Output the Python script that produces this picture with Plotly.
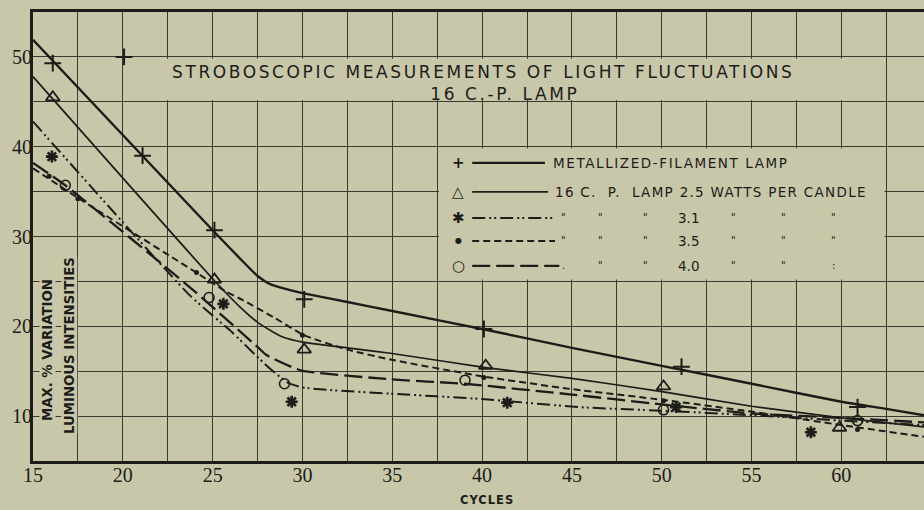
import plotly.graph_objects as go

# ---------------- data ----------------
# smooth curves drawn through the observations
curve_metal_x = [15, 25, 26.5, 27.5, 28.2, 29, 30, 32.5, 35, 40, 45, 50, 55, 60, 62.5, 64.6]
curve_metal_y = [51.9, 30.7, 27.6, 25.6, 24.7, 24.2, 23.7, 22.7, 21.7, 19.7, 17.6, 15.6, 13.6, 11.6, 10.8, 10.1]

curve_25_x = [15, 25, 26.5, 27.6, 28.9, 30.1, 32.5, 34.9, 40.2, 45, 50.1, 55, 60, 64.6]
curve_25_y = [47.8, 25.3, 22.2, 20.3, 18.8, 18.2, 17.6, 17.0, 15.4, 14.2, 12.7, 11.1, 9.8, 8.8]

curve_31_x = [15, 23.7, 26.1, 27.8, 28.6, 29.2, 30, 31.5, 34.9, 40, 45.4, 50, 55, 60, 64.6]
curve_31_y = [42.8, 23.5, 19.3, 16.0, 14.6, 13.7, 13.2, 12.9, 12.5, 11.9, 11.0, 10.6, 10.1, 9.5, 9.0]

curve_35_x = [15, 17.5, 24, 25.8, 26.7, 28.4, 30.1, 32.5, 34.9, 40.1, 45, 50.1, 55, 60, 64.6]
curve_35_y = [37.6, 34.3, 26.1, 23.8, 22.9, 21.0, 19.0, 17.4, 16.3, 14.4, 13.0, 11.8, 10.5, 9.0, 7.7]

curve_40_x = [15, 16.8, 23.7, 27.5, 28.0, 29.9, 34.9, 39, 45, 50, 55, 60, 64.6]
curve_40_y = [38.2, 35.7, 24.4, 17.7, 16.8, 15.1, 14.1, 13.6, 12.4, 11.3, 10.3, 9.8, 9.3]

# observed points (markers)
obs_metal_x = [16.1, 20.07, 21.1, 25.1, 30.1, 40.1, 51.1, 60.9]
obs_metal_y = [49.3, 50.0, 39.0, 30.7, 23.0, 19.7, 15.5, 11.0]

obs_25_x = [16.1, 25.1, 30.1, 40.2, 50.1, 59.9]
obs_25_y = [45.5, 25.2, 17.4, 15.6, 13.3, 8.7]

obs_31_x = [16.05, 25.6, 29.4, 41.4, 50.8, 58.3]
obs_31_y = [38.9, 22.5, 11.6, 11.5, 11.0, 8.2]

obs_35_x = [15.9, 17.5, 24.1, 30.0, 40.1, 50.1, 60.9]
obs_35_y = [36.7, 34.2, 26.0, 19.0, 14.3, 11.7, 8.5]

obs_40_x = [16.8, 24.8, 29.0, 39.05, 50.1, 60.9]
obs_40_y = [35.7, 23.2, 13.6, 14.0, 10.7, 9.5]

x_tick_vals = [15, 20, 25, 30, 35, 40, 45, 50, 55, 60]
x_tick_text = ["15", "20", "25", "30", "35", "40", "45", "50", "55", "60"]
y_tick_vals = [10, 20, 30, 40, 50]
y_tick_text = ["10", "20", "30", "40", "50"]

title_line1 = "STROBOSCOPIC MEASUREMENTS OF LIGHT FLUCTUATIONS"
title_line2 = "16 C.-P. LAMP"
y_title_1 = "MAX. % VARIATION"
y_title_2 = "LUMINOUS INTENSITIES"
x_title = "CYCLES"

legend_glyphs = ["+", "△", "✱", "●", "○"]
legend_label_1 = "METALLIZED-FILAMENT LAMP"
legend_label_2 = "16 C.  P.  LAMP 2.5 WATTS PER CANDLE"
legend_rows_345 = [
    ['"', '"', '"', "3.1", '"', '"', '"'],
    ['"', '"', '"', "3.5", '"', '"', '"'],
    [".", '"', '"', "4.0", '"', '"', ":"],
]

# ---------------- styling ----------------
BG = "#c9c7aa"
INK = "#1c1c18"
GRID = "#3a3930"

DASH_31 = "13px,4px,2px,3px,2px,4px"
DASH_35 = "7px,4px"
DASH_40 = "18px,6px"


def spaced(txt, px):
    return '<span style="letter-spacing:%spx">%s</span>' % (px, txt)


fig = go.Figure()


def add_curve(x, y, width, dash):
    fig.add_trace(go.Scatter(x=x, y=y, mode="lines", showlegend=False, hoverinfo="skip",
                             line=dict(color=INK, width=width, dash=dash, shape="spline", smoothing=0.5)))


add_curve(curve_metal_x, curve_metal_y, 2.4, "solid")
add_curve(curve_25_x, curve_25_y, 1.7, "solid")
add_curve(curve_31_x, curve_31_y, 2.0, DASH_31)
add_curve(curve_35_x, curve_35_y, 2.0, DASH_35)
add_curve(curve_40_x, curve_40_y, 2.3, DASH_40)


def add_obs(x, y, symbol, size, lw, xaxis="x"):
    fig.add_trace(go.Scatter(x=x, y=y, mode="markers", showlegend=False, xaxis=xaxis,
                             marker=dict(symbol=symbol, size=size, color=INK,
                                         line=dict(color=INK, width=lw))))


add_obs(obs_metal_x, obs_metal_y, "cross-thin-open", 12, 2, xaxis="x2")
add_obs(obs_25_x, obs_25_y, "triangle-up-open", 12, 1.8)
add_obs(obs_31_x, obs_31_y, "asterisk-open", 10, 2.6)
add_obs(obs_35_x, obs_35_y, "circle", 5, 0)
add_obs(obs_40_x, obs_40_y, "circle-open", 10, 1.6)

# blank areas of the grid behind title and key
shapes = [
    dict(type="rect", xref="x", yref="y", x0=21.6, x1=61.0, y0=45.2, y1=49.8,
         fillcolor=BG, line=dict(width=0), layer="between"),
    dict(type="rect", xref="x", yref="y", x0=37.6, x1=62.4, y0=25.2, y1=39.8,
         fillcolor=BG, line=dict(width=0), layer="between"),
]

# key line samples
key_rows_y = [38.2, 34.97, 32.07, 29.51, 26.73]
key_line_x0 = 39.45
key_line_x1 = [43.5, 43.68, 44.06, 44.06, 44.3]
key_widths = [2.2, 1.8, 2.0, 2.0, 2.3]
key_dashes = ["solid", "solid", DASH_31, DASH_35, DASH_40]
for yy, x1, w, d in zip(key_rows_y, key_line_x1, key_widths, key_dashes):
    shapes.append(dict(type="line", xref="x", yref="y", x0=key_line_x0, x1=x1, y0=yy, y1=yy,
                       line=dict(color=INK, width=w, dash=d)))

annotations = []
SANS = "DejaVu Sans"
annotations.append(dict(x=40.06, y=47.1, xref="x", yref="y",
                        text=spaced(title_line1, 2.6) + "<br>" + "&nbsp;" * 8 + spaced(title_line2, 2.6),
                        showarrow=False, align="center",
                        font=dict(family=SANS, size=17, color=INK)))
annotations.append(dict(x=15.81, y=17.3, xref="x", yref="y", text="<b>" + y_title_1 + "</b>",
                        textangle=-90, showarrow=False, bgcolor=BG, borderpad=0,
                        font=dict(family=SANS, size=13.3, color=INK)))
annotations.append(dict(x=17.0, y=17.9, xref="x", yref="y", text="<b>" + y_title_2 + "</b>",
                        textangle=-90, showarrow=False, bgcolor=BG, borderpad=0,
                        font=dict(family=SANS, size=13.3, color=INK)))
annotations.append(dict(x=40.28, y=-0.087, xref="x", yref="paper", yanchor="middle",
                        text="<b>" + spaced(x_title, 1) + "</b>",
                        showarrow=False, font=dict(family=SANS, size=11.5, color=INK)))

# key glyphs and labels
for g, yy in zip(legend_glyphs, key_rows_y):
    annotations.append(dict(x=38.66, y=yy, xref="x", yref="y", text="<b>" + g + "</b>", showarrow=False,
                            font=dict(family=SANS, size=15 if g != "●" else 8, color=INK)))
annotations.append(dict(x=43.85, y=key_rows_y[0], xref="x", yref="y", text=spaced(legend_label_1, 1.6),
                        xanchor="left", showarrow=False, font=dict(family=SANS, size=13.5, color=INK)))
annotations.append(dict(x=43.95, y=key_rows_y[1], xref="x", yref="y", text=spaced(legend_label_2, 1.3),
                        xanchor="left", showarrow=False, font=dict(family=SANS, size=13.5, color=INK)))
token_x = [44.51, 46.57, 49.08, 51.47, 53.98, 56.76, 59.54]
for row, yy in zip(legend_rows_345, key_rows_y[2:]):
    for tok, tx in zip(row, token_x):
        is_num = any(ch.isdigit() for ch in tok)
        annotations.append(dict(x=tx, y=yy, xref="x", yref="y",
                                text=tok, showarrow=False,
                                font=dict(family=SANS, size=13.5 if is_num else 10, color=INK)))

grid_common = dict(showgrid=True, gridcolor=GRID, gridwidth=1.3, zeroline=False)
X_RANGE = [15, 64.6]

fig.update_layout(
    width=924, height=510,
    margin=dict(l=33, r=0, t=12, b=49, autoexpand=False),
    paper_bgcolor=BG, plot_bgcolor=BG,
    showlegend=False,
    hovermode=False,
    shapes=shapes,
    annotations=annotations,
    xaxis=dict(range=X_RANGE, tickvals=x_tick_vals, showticklabels=False,
               automargin=False,
               minor=dict(dtick=2.5, tick0=15, showgrid=True, gridcolor=GRID, gridwidth=1.3),
               showline=True, linecolor=INK, linewidth=2.5, mirror=True, ticks="", **grid_common),
    # label-only axis carrying the cycle numbers
    xaxis2=dict(range=X_RANGE, overlaying="x", anchor="free", position=0, side="bottom",
                tickvals=x_tick_vals, ticktext=x_tick_text, showgrid=False, zeroline=False,
                showline=False, ticks="", automargin=False,
                tickfont=dict(family="Liberation Serif", size=20, color=INK)),
    yaxis=dict(range=[5, 55], tickvals=y_tick_vals, ticktext=y_tick_text,
               tickfont=dict(family="Liberation Serif", size=20, color=INK),
               ticklabelstandoff=-6, automargin=False,
               minor=dict(dtick=5, tick0=5, showgrid=True, gridcolor=GRID, gridwidth=1.3),
               showline=True, linecolor=INK, linewidth=3, ticks="", **grid_common),
)

fig.write_html("out.html", config={"displayModeBar": False},
               post_script="document.body.style.margin='0';document.body.style.background='%s';" % BG)
